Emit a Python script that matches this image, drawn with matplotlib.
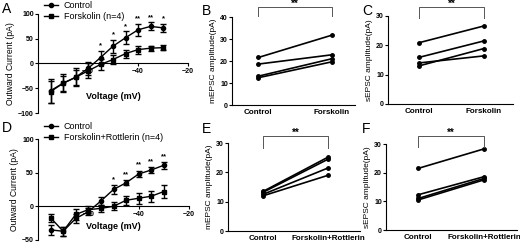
import matplotlib
matplotlib.use('Agg')
import matplotlib.pyplot as plt

plt.rcParams['font.family'] = ['Liberation Sans', 'DejaVu Sans']
plt.rcParams['font.weight'] = 'bold'

W, H = 520, 245

# I-V curves (A, D)
volt = [-75, -70, -65, -60, -55, -50, -45, -40, -35, -30]
a_ctrl = [-55, -40, -28, -10, 12, 35, 52, 68, 75, 72]
a_ctrl_err = [24, 18, 15, 14, 14, 13, 13, 12, 8, 8]
a_forsk = [-57, -40, -28, -15, -2, 8, 20, 28, 31, 32]
a_forsk_err = [22, 15, 18, 15, 12, 10, 8, 8, 5, 5]
a_stars = ['', '', '', '', '*', '*', '*', '**', '**', '*']

d_ctrl = [-35, -37, -18, -8, 8, 25, 35, 48, 54, 61]
d_ctrl_err = [7, 7, 7, 5, 6, 6, 4, 5, 4, 5]
d_fr = [-17, -37, -12, -5, -3, 0, 9, 12, 15, 22]
d_fr_err = [6, 7, 8, 5, 5, 6, 7, 8, 8, 10]
d_stars = ['', '', '', '', '', '*', '**', '**', '**', '**']

# paired amplitudes (B, C, E, F)
b_ctrl = [21.6, 18.6, 13.1, 12.4]
b_forsk = [31.7, 22.8, 21.0, 19.6]
c_ctrl = [20.9, 15.9, 14.0, 13.0]
c_forsk = [26.6, 21.5, 16.4, 18.9]
e_ctrl = [13.5, 13.2, 12.5, 12.0]
e_fr = [25.2, 24.5, 21.5, 19.0]
f_ctrl = [21.5, 12.3, 11.0, 10.5]
f_fr = [28.3, 18.6, 18.0, 17.5]


def rect(l, t, r, b):
    return [l / W, 1 - b / H, (r - l) / W, (b - t) / H]


fig = plt.figure(figsize=(W / 100, H / 100), dpi=100)


def iv_panel(box, ctrl, ctrl_err, trt, trt_err, stars, ylim, yticks, trt_label,
             leg_y, xlab_y):
    ax = fig.add_axes(box)
    ax.errorbar(volt, ctrl, yerr=ctrl_err, color='black', marker='o', ms=3,
                lw=1, elinewidth=1, capsize=2, capthick=1)
    ax.errorbar(volt, trt, yerr=trt_err, color='black', marker='s', ms=3,
                lw=1, elinewidth=1, capsize=2, capthick=1)
    for v, y, e, s in zip(volt, ctrl, ctrl_err, stars):
        if s:
            ax.text(v, y + e + 3, s, ha='center', va='bottom', fontsize=5.5)
    ax.set_xlim(-80, -20)
    ax.set_ylim(*ylim)
    ax.set_yticks(yticks)
    ax.set_xticks([-60, -40, -20])
    ax.spines['top'].set_visible(False)
    ax.spines['right'].set_visible(False)
    ax.spines['bottom'].set_position(('data', 0))
    ax.tick_params(labelsize=5, length=2, width=0.8, pad=1)
    for sp in ax.spines.values():
        sp.set_linewidth(0.8)
    ax.text(0.5, xlab_y, 'Voltage (mV)', transform=ax.transAxes, ha='center',
            va='center', fontsize=6.5)
    ax.set_ylabel('Outward Current (pA)', fontsize=6.2, labelpad=2)
    h1, = ax.plot([], [], color='black', marker='o', ms=3, lw=1)
    h2, = ax.plot([], [], color='black', marker='s', ms=3, lw=1)
    fig.legend([h1, h2], ['Control', trt_label], loc='upper left',
               bbox_to_anchor=(44 / W, 1 - leg_y / H), frameon=False,
               prop={'size': 6.5, 'weight': 'normal'}, handlelength=1.6,
               handletextpad=0.6, labelspacing=0.2, borderpad=0, borderaxespad=0)
    return ax


def pair_panel(box, ctrl, trt, labels, ylim, yticks, xlim, ylabel, br_top, br_end):
    ax = fig.add_axes(box)
    for a, b in zip(ctrl, trt):
        ax.plot([0, 1], [a, b], color='black', marker='o', ms=2.5, lw=1.2)
    ax.set_xlim(*xlim)
    ax.set_ylim(*ylim)
    ax.set_yticks(yticks)
    ax.set_xticks([0, 1])
    ax.set_xticklabels(labels)
    ax.spines['top'].set_visible(False)
    ax.spines['right'].set_visible(False)
    for sp in ax.spines.values():
        sp.set_linewidth(0.8)
    ax.tick_params(axis='y', labelsize=5, length=2, width=0.8, pad=1)
    ax.tick_params(axis='x', labelsize=5.8, length=0, pad=3)
    ax.set_ylabel(ylabel, fontsize=6, labelpad=2)
    ax.plot([0, 0, 1, 1], [br_end, br_top, br_top, br_end], color='#555555',
            lw=0.7, clip_on=False)
    ax.text(0.5, br_top, '**', ha='center', va='baseline', fontsize=7)
    return ax


iv_panel(rect(38, 14, 188, 113), a_ctrl, a_ctrl_err, a_forsk, a_forsk_err,
         a_stars, (-100, 100), [-100, -50, 0, 50, 100], 'Forskolin (n=4)', 1, 0.17)
iv_panel(rect(38, 139, 189, 240), d_ctrl, d_ctrl_err, d_fr, d_fr_err,
         d_stars, (-50, 100), [-50, 0, 50, 100], 'Forskolin+Rottlerin (n=4)', 122, 0.13)

pair_panel(rect(232, 17, 355, 105), b_ctrl, b_forsk, ['Control', 'Forskolin'],
           (0, 40), [0, 10, 20, 30, 40], (-0.36, 1.32), 'mEPSC amplitude(pA)', 44.5, 40.5)
pair_panel(rect(388, 16, 513, 104), c_ctrl, c_forsk, ['Control', 'Forskolin'],
           (0, 30), [0, 10, 20, 30], (-0.48, 1.45), 'sEPSC amplitude(pA)', 33, 29.3)
pair_panel(rect(228, 143, 360, 231), e_ctrl, e_fr, ['Control', 'Forskolin+Rottlerin'],
           (0, 30), [0, 10, 20, 30], (-0.54, 1.49), 'mEPSC amplitude(pA)', 32.4, 28.3)
pair_panel(rect(386, 144, 517, 230), f_ctrl, f_fr, ['Control', 'Forskolin+Rottlerin'],
           (0, 30), [0, 10, 20, 30], (-0.49, 1.5), 'sEPSC amplitude(pA)', 32.8, 29)

for lab, x, y in [('A', 2, 2), ('B', 202, 4), ('C', 362, 4),
                  ('D', 2, 121), ('E', 202, 122), ('F', 362, 122)]:
    fig.text(x / W, 1 - y / H, lab, fontsize=10, fontweight='normal', va='top', ha='left')

fig.savefig('out.png', dpi=100)
